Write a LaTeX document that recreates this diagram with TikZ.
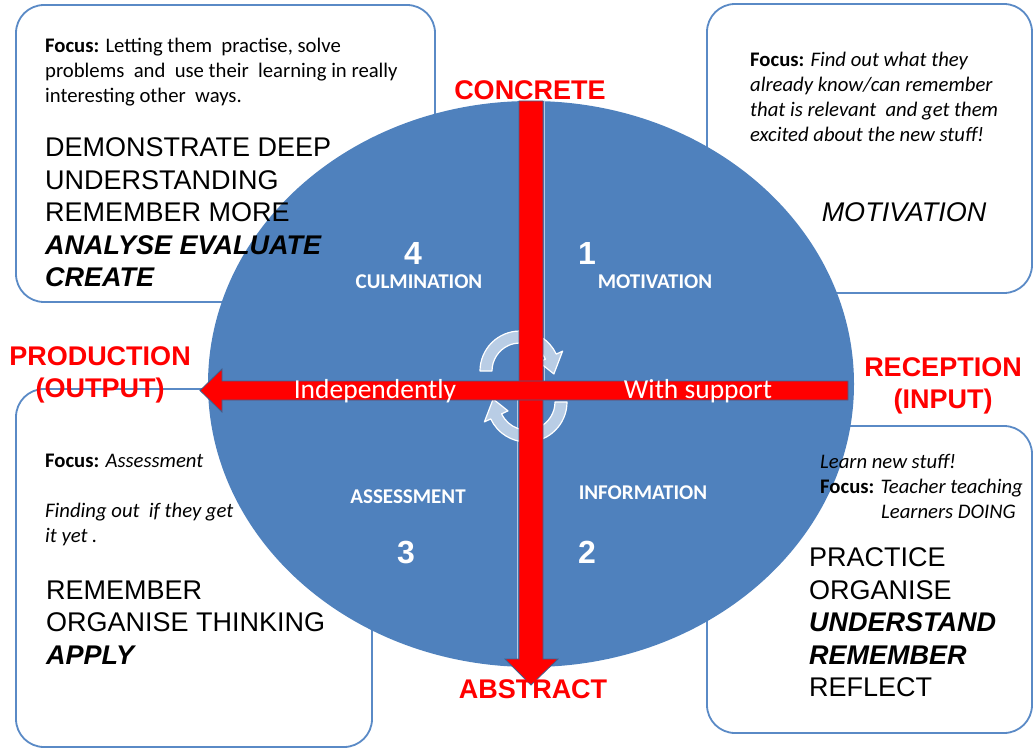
\documentclass[tikz,border=0pt]{standalone}
\usepackage{fontspec}
\setmainfont{Carlito}
\newfontfamily\arial{Liberation Sans}
\definecolor{discblue}{HTML}{4F81BD}
\definecolor{boxline}{HTML}{5A8AC6}
\definecolor{cyclefill}{HTML}{B9CDE5}
\definecolor{arrowedge}{HTML}{3F5F8C}
\definecolor{divline}{HTML}{B4C8E2}
\tikzset{
  infobox/.style={draw=boxline,line width=1.8pt,fill=white,rounded corners=28pt},
  focustext/.style={anchor=north west,inner sep=0pt,align=left,font=\fontsize{20.7}{25}\selectfont},
  bigwords/.style={anchor=north west,inner sep=0pt,align=left,font=\arial\fontsize{27}{32.5}\selectfont},
  redlabel/.style={text=red,inner sep=0pt,align=center,font=\arial\bfseries\fontsize{27}{32}\selectfont},
  quadname/.style={text=white,inner sep=0pt,font=\bfseries\fontsize{21}{22}\selectfont},
  quadnum/.style={text=white,inner sep=0pt,font=\arial\bfseries\fontsize{32}{36}\selectfont},
  bartext/.style={text=white,inner sep=0pt,anchor=base,font=\fontsize{27.5}{30}\selectfont},
  redarrow/.style={fill=red,draw=arrowedge,line width=0.8pt,line join=miter},
  cyclearrow/.style={fill=cyclefill,draw=white,line width=1.2pt}
}
\begin{document}
\begin{tikzpicture}[x=1pt,y=-1pt,line cap=round,line join=round]
\useasboundingbox (0,0) rectangle (1036,749);
% boxes sit behind the disc
\draw[infobox] (16,5) rectangle (435,302);
\draw[infobox] (707,4) rectangle (1032,293);
\draw[infobox] (16,389) rectangle (372,747);
\draw[infobox] (707,426) rectangle (1032,733);
% the disc and its quarter lines
\fill[discblue] (531,384) ellipse[x radius=323,y radius=283];
\draw[divline,line width=1pt] (544,101) -- (544,384);
\draw[divline,line width=1pt] (517,384) -- (517,667);
% cycle arrows in the middle
\foreach \a/\cx/\cy in {180/520/371, 0/527/402}
{\draw[cyclearrow,shift={(\cx,\cy)}] (\a:40) arc[start angle=\a,delta angle=155,radius=40]
  -- ({\a+155}:47) -- ({\a+185}:34) -- ({\a+155}:21) -- ({\a+155}:28)
  arc[start angle={\a+155},delta angle=-155,radius=28] -- cycle;}
% concrete -> abstract, then input -> output
\draw[redarrow] (519,101) -- (543,101) -- (543,659) -- (558,659) -- (531,685)
  -- (505,659) -- (519,659) -- cycle;
\draw[redarrow] (848,381) -- (848,400) -- (222,400) -- (222,412) -- (200,390.5)
  -- (222,369) -- (222,381) -- cycle;
\node[bartext] (indep) at (375,398) {Independently};
\node[bartext] (withsup) at (698,398) {With support};
% quarter labels
\node[quadnum] (q4) at (413,253.5) {4};
\node[quadname] (q4name) at (419,281.5) {CULMINATION};
\node[quadnum] (q1) at (587,253.5) {1};
\node[quadname] (q1name) at (655,281.5) {MOTIVATION};
\node[quadname] (q3name) at (408,497) {ASSESSMENT};
\node[quadnum] (q3) at (406,552.5) {3};
\node[quadname] (q2name) at (643,492.5) {INFORMATION};
\node[quadnum] (q2) at (587,552.5) {2};
% axis words
\node[redlabel] (concrete) at (530,90.5) {CONCRETE};
\node[redlabel] (abstract) at (533,689.5) {ABSTRACT};
\node[redlabel] (production) at (100,375) {PRODUCTION\\(OUTPUT)};
\node[redlabel] (reception) at (943,386) {RECEPTION\\(INPUT)};
% box texts
\node[focustext] (cultext) at (45,37.5) {\textbf{Focus:} Letting them\ \ practise, solve\\problems\ \ and\ \ use their\ \ learning in really\\interesting other\ \ ways.};
\node[bigwords] (culwords) at (45,137.5) {DEMONSTRATE DEEP\\UNDERSTANDING\\REMEMBER MORE\\\textbf{\textit{ANALYSE EVALUATE}}\\\textbf{\textit{CREATE}}};
\node[focustext] (mottext) at (750,52) {\textbf{Focus:} \textit{Find out\ what they}\\\textit{already know/can\ remember}\\\textit{that is relevant\ \ and get them}\\\textit{excited about the new stuff!}};
\node[inner sep=0pt,font=\arial\itshape\fontsize{27}{32}\selectfont] (motword) at (904,212) {MOTIVATION};
\node[focustext] (asstext) at (45,453.5) {\textbf{Focus:} \textit{Assessment}\\[25pt]\textit{Finding out\ \ if they get}\\\textit{it yet .}};
\node[bigwords] (asswords) at (46,580.7) {REMEMBER\\ORGANISE THINKING\\\textbf{\textit{APPLY}}};
\node[focustext] (inftext) at (820,454.5) {\textit{Learn new stuff!}\\\textbf{Focus:} \textit{Teacher teaching}\\\hspace*{61pt}\textit{Learners DOING}};
\node[bigwords] (infwords) at (809,547.7) {PRACTICE\\ORGANISE\\\textbf{\textit{UNDERSTAND}}\\\textbf{\textit{REMEMBER}}\\REFLECT};
\end{tikzpicture}
\end{document}
